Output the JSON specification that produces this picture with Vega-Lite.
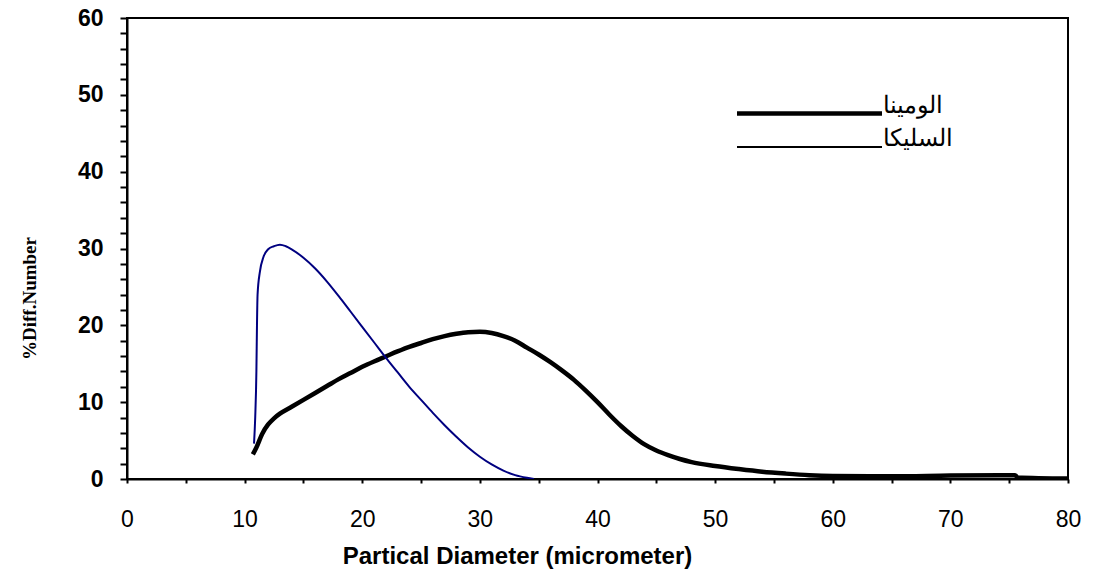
{
  "$schema": "https://vega.github.io/schema/vega-lite/v6.json",
  "width": 941,
  "height": 461,
  "autosize": "none",
  "padding": {"left": 127, "top": 18, "right": 39, "bottom": 99},
  "background": "white",
  "config": {
    "view": {"stroke": "black", "strokeWidth": 2},
    "font": "Liberation Sans"
  },
  "data": {
    "values": [
      {"s": "الومينا", "x": 10.7, "y": 3.2},
      {"s": "الومينا", "x": 11.0, "y": 4.1},
      {"s": "الومينا", "x": 11.5, "y": 5.9},
      {"s": "الومينا", "x": 12.0, "y": 7.1},
      {"s": "الومينا", "x": 12.5, "y": 7.9},
      {"s": "الومينا", "x": 13.0, "y": 8.5},
      {"s": "الومينا", "x": 14.0, "y": 9.4},
      {"s": "الومينا", "x": 15.0, "y": 10.3},
      {"s": "الومينا", "x": 16.0, "y": 11.2},
      {"s": "الومينا", "x": 17.0, "y": 12.1},
      {"s": "الومينا", "x": 18.0, "y": 13.0},
      {"s": "الومينا", "x": 19.0, "y": 13.8},
      {"s": "الومينا", "x": 20.0, "y": 14.6},
      {"s": "الومينا", "x": 21.0, "y": 15.3},
      {"s": "الومينا", "x": 22.0, "y": 15.95},
      {"s": "الومينا", "x": 23.0, "y": 16.6},
      {"s": "الومينا", "x": 24.0, "y": 17.2},
      {"s": "الومينا", "x": 25.0, "y": 17.7},
      {"s": "الومينا", "x": 26.0, "y": 18.2},
      {"s": "الومينا", "x": 27.0, "y": 18.6},
      {"s": "الومينا", "x": 28.0, "y": 18.9},
      {"s": "الومينا", "x": 29.0, "y": 19.1},
      {"s": "الومينا", "x": 30.0, "y": 19.15},
      {"s": "الومينا", "x": 31.0, "y": 19.0},
      {"s": "الومينا", "x": 32.0, "y": 18.6},
      {"s": "الومينا", "x": 33.0, "y": 18.0},
      {"s": "الومينا", "x": 34.0, "y": 17.1},
      {"s": "الومينا", "x": 35.0, "y": 16.2},
      {"s": "الومينا", "x": 36.0, "y": 15.2},
      {"s": "الومينا", "x": 37.0, "y": 14.1},
      {"s": "الومينا", "x": 38.0, "y": 12.9},
      {"s": "الومينا", "x": 39.0, "y": 11.5},
      {"s": "الومينا", "x": 40.0, "y": 10.0},
      {"s": "الومينا", "x": 41.0, "y": 8.4},
      {"s": "الومينا", "x": 42.0, "y": 6.9},
      {"s": "الومينا", "x": 43.0, "y": 5.6},
      {"s": "الومينا", "x": 44.0, "y": 4.5},
      {"s": "الومينا", "x": 45.0, "y": 3.7},
      {"s": "الومينا", "x": 46.0, "y": 3.1},
      {"s": "الومينا", "x": 47.0, "y": 2.6},
      {"s": "الومينا", "x": 48.0, "y": 2.2},
      {"s": "الومينا", "x": 50.0, "y": 1.7},
      {"s": "الومينا", "x": 52.0, "y": 1.3},
      {"s": "الومينا", "x": 54.0, "y": 0.95},
      {"s": "الومينا", "x": 56.0, "y": 0.7},
      {"s": "الومينا", "x": 58.0, "y": 0.5},
      {"s": "الومينا", "x": 60.0, "y": 0.4},
      {"s": "الومينا", "x": 65.0, "y": 0.35},
      {"s": "الومينا", "x": 70.0, "y": 0.45},
      {"s": "الومينا", "x": 75.5, "y": 0.5},
      {"s": "الومينا", "x": 75.7, "y": 0.2},
      {"s": "الومينا", "x": 80.0, "y": 0.05},
      {"s": "السليكا", "x": 10.8, "y": 4.6},
      {"s": "السليكا", "x": 10.9, "y": 8.0},
      {"s": "السليكا", "x": 11.0, "y": 14.0},
      {"s": "السليكا", "x": 11.05, "y": 20.0},
      {"s": "السليكا", "x": 11.1, "y": 24.0},
      {"s": "السليكا", "x": 11.3, "y": 27.0},
      {"s": "السليكا", "x": 11.6, "y": 28.9},
      {"s": "السليكا", "x": 12.0, "y": 29.9},
      {"s": "السليكا", "x": 12.5, "y": 30.3},
      {"s": "السليكا", "x": 13.0, "y": 30.5},
      {"s": "السليكا", "x": 13.5, "y": 30.3},
      {"s": "السليكا", "x": 14.0, "y": 29.9},
      {"s": "السليكا", "x": 15.0, "y": 28.8},
      {"s": "السليكا", "x": 16.0, "y": 27.4},
      {"s": "السليكا", "x": 17.0, "y": 25.7},
      {"s": "السليكا", "x": 18.0, "y": 23.8},
      {"s": "السليكا", "x": 19.0, "y": 21.8},
      {"s": "السليكا", "x": 20.0, "y": 19.8},
      {"s": "السليكا", "x": 21.0, "y": 17.8},
      {"s": "السليكا", "x": 22.0, "y": 15.8},
      {"s": "السليكا", "x": 23.0, "y": 13.9},
      {"s": "السليكا", "x": 24.0, "y": 12.0},
      {"s": "السليكا", "x": 25.0, "y": 10.3},
      {"s": "السليكا", "x": 26.0, "y": 8.6},
      {"s": "السليكا", "x": 27.0, "y": 7.0},
      {"s": "السليكا", "x": 28.0, "y": 5.5},
      {"s": "السليكا", "x": 29.0, "y": 4.1},
      {"s": "السليكا", "x": 30.0, "y": 2.9},
      {"s": "السليكا", "x": 31.0, "y": 1.9},
      {"s": "السليكا", "x": 32.0, "y": 1.1},
      {"s": "السليكا", "x": 33.0, "y": 0.5},
      {"s": "السليكا", "x": 34.0, "y": 0.15},
      {"s": "السليكا", "x": 34.6, "y": 0.0}
    ]
  },
  "mark": {"type": "line", "interpolate": "monotone", "clip": true},
  "encoding": {
    "x": {
      "field": "x",
      "type": "quantitative",
      "scale": {"domain": [0, 80], "nice": false},
      "axis": {
        "values": [0, 5, 10, 15, 20, 25, 30, 35, 40, 45, 50, 55, 60, 65, 70, 75, 80],
        "labelExpr": "datum.value % 10 == 0 ? datum.label : ''",
        "labelFlush": false,
        "grid": false,
        "domainColor": "black",
        "domainWidth": 2,
        "tickColor": "black",
        "tickWidth": 2,
        "tickSize": 4,
        "labelFontSize": 23,
        "labelColor": "black",
        "labelPadding": 25,
        "labelFont": "Liberation Sans",
        "title": "Partical Diameter (micrometer)",
        "titleFont": "Liberation Sans",
        "titleFontSize": 24,
        "titleFontWeight": "bold",
        "titleColor": "black",
        "titleX": 390,
        "titleY": 84,
        "titleAlign": "center",
        "titleBaseline": "alphabetic",
        "titleAnchor": null
      }
    },
    "y": {
      "field": "y",
      "type": "quantitative",
      "scale": {"domain": [0, 60], "nice": false},
      "axis": {
        "values": [0, 2, 4, 6, 8, 10, 12, 14, 16, 18, 20, 22, 24, 26, 28, 30, 32, 34, 36, 38, 40, 42, 44, 46, 48, 50, 52, 54, 56, 58, 60],
        "labelExpr": "datum.value % 10 == 0 ? datum.label : ''",
        "labelFlush": false,
        "grid": false,
        "domainColor": "black",
        "domainWidth": 2,
        "tickColor": "black",
        "tickWidth": 2,
        "tickSize": 7,
        "labelFontSize": 23,
        "labelFontWeight": "bold",
        "labelColor": "black",
        "labelPadding": 17,
        "labelFont": "Liberation Sans",
        "title": "%Diff.Number",
        "titleFont": "Liberation Serif",
        "titleFontSize": 19,
        "titleFontWeight": "bold",
        "titleColor": "black",
        "titleAngle": -90,
        "titleX": -92,
        "titleY": 280,
        "titleAlign": "center",
        "titleBaseline": "alphabetic",
        "titleAnchor": null
      }
    },
    "color": {
      "condition": {"test": "datum.s === 'السليكا'", "value": "#000080"},
      "field": "s",
      "type": "nominal",
      "scale": {"domain": ["الومينا", "السليكا"], "range": ["black", "black"]},
      "legend": {
        "title": null,
        "orient": "none",
        "legendX": 670,
        "legendY": 75,
        "symbolType": "M-7.25,0.8H7.25",
        "symbolSize": 400,
        "labelFontSize": 24,
        "labelColor": "black",
        "labelFont": "Liberation Sans",
        "labelOffset": 61,
        "rowPadding": 4
      }
    },
    "strokeWidth": {
      "field": "s",
      "type": "nominal",
      "scale": {"domain": ["الومينا", "السليكا"], "range": [4.5, 2]},
      "legend": {
        "title": null,
        "orient": "none",
        "legendX": 670,
        "legendY": 75,
        "symbolType": "M-7.25,0.8H7.25",
        "symbolSize": 400,
        "labelFontSize": 24,
        "labelColor": "black",
        "labelFont": "Liberation Sans",
        "labelOffset": 61,
        "rowPadding": 4
      }
    }
  }
}
